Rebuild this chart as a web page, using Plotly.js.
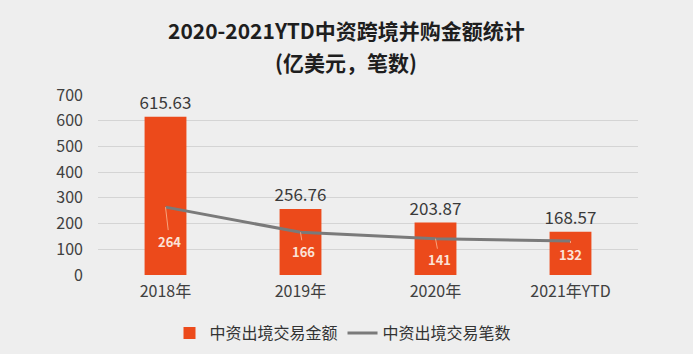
<!DOCTYPE html>
<html>
<head>
<meta charset="utf-8">
<script src="https://cdn.plot.ly/plotly-3.0.1.min.js"></script>
<style>
html,body{margin:0;padding:0;background:#eeeeee;}
#chart{width:693px;height:354px;}
</style>
</head>
<body>
<div id="chart"></div>
<script>
var categories = ["2018年", "2019年", "2020年", "2021年YTD"];
var amountValues = [615.63, 256.76, 203.87, 168.57];
var countValues = [264, 166, 141, 132];
var seriesNames = ["中资出境交易金额", "中资出境交易笔数"];
var titleLines = ["2020-2021YTD中资跨境并购金额统计", "(亿美元，笔数)"];

var FONT = "'Noto Sans CJK SC', 'Noto Sans', sans-serif";

var traces = [
  {
    type: "bar",
    name: seriesNames[0],
    x: categories,
    y: amountValues,
    marker: {color: "#ec4a1b"},
    text: amountValues.map(function(v){return v.toFixed(2);}),
    textposition: "outside",
    constraintext: "none",
    textfont: {family: FONT, size: 17, color: "#3a3a3a"},
    cliponaxis: false,
    hoverinfo: "skip"
  },
  {
    type: "scatter",
    mode: "lines",
    name: seriesNames[1],
    x: categories,
    y: countValues,
    line: {color: "#7a7a7a", width: 3},
    hoverinfo: "skip"
  }
];

var labelOffsets = [[4, 34], [3, 19], [4, 21], [0, 13]];
var anns = countValues.map(function(v, i){
  return {
    x: categories[i], y: v, xref: "x", yref: "y",
    text: "<b>" + v + "</b>",
    showarrow: true, arrowhead: 0, arrowwidth: 1, arrowcolor: "#f6a47e",
    ax: labelOffsets[i][0], ay: labelOffsets[i][1],
    font: {family: FONT, size: 13, color: "#fbe3d8"},
    standoff: 0, startstandoff: 0
  };
});

// plot area spans x 98..638 px, y 95..275 px
var plotH = 354 - 95 - 79;
var plotW = 540;
[[titleLines[0], 30], [titleLines[1], 62]].forEach(function(t){
  anns.push({
    xref: "paper", yref: "paper",
    x: (346 - 98) / plotW, xanchor: "center",
    y: (275 - t[1]) / plotH, yanchor: "middle",
    showarrow: false,
    text: "<b>" + t[0] + "</b>",
    font: {family: FONT, size: 21, color: "#1e1e1e"}
  });
});

var layout = {
  width: 693, height: 354,
  paper_bgcolor: "#eeeeee",
  plot_bgcolor: "rgba(0,0,0,0)",
  margin: {l: 98, r: 55, t: 95, b: 79, autoexpand: false},
  showlegend: true,
  legend: {
    orientation: "h", x: (343 - 98) / plotW, xref: "paper", xanchor: "center",
    y: (275 - 333) / plotH, yanchor: "middle",
    font: {family: FONT, size: 16, color: "#333333"},
    itemwidth: 30
  },
  bargap: 0.69,
  xaxis: {
    tickfont: {family: FONT, size: 16, color: "#404040"},
    showgrid: false, zeroline: false, showline: false,
    ticklabelstandoff: 5
  },
  yaxis: {
    range: [0, 700], dtick: 100, tick0: 0,
    tickfont: {family: FONT, size: 16, color: "#404040"},
    gridcolor: "#d4d4d4", gridwidth: 1,
    zeroline: false, showline: false,
    ticklabelstandoff: 14
  },
  annotations: anns
};

Plotly.newPlot("chart", traces, layout, {displayModeBar: false, staticPlot: true});
</script>
</body>
</html>
